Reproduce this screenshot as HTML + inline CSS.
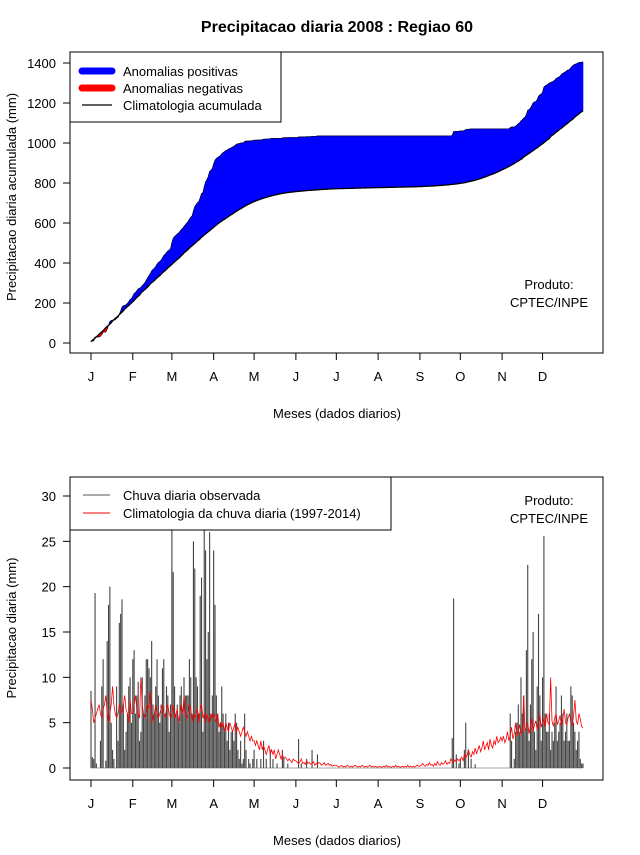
<!DOCTYPE html>
<html><head><meta charset="utf-8">
<style>
body{margin:0;background:#fff;}
svg text{font-family:"Liberation Sans",sans-serif;fill:#000;}
</style></head>
<body>
<svg id="c" width="640" height="850" xmlns="http://www.w3.org/2000/svg">
<rect width="640" height="850" fill="#fff"/>
<text x="337" y="32" font-size="16" font-weight="bold" text-anchor="middle">Precipitacao diaria 2008 : Regiao 60</text>
<g id="topPanel"></g>
<g id="botPanel"></g>
</svg>
<script>
const monthLabels=["J","F","M","A","M","J","J","A","S","O","N","D"];
const monthStartDays=[1,32,61,92,122,153,183,214,245,275,306,336];
const topTicks=[0,200,400,600,800,1000,1200,1400];
const botTicks=[0,5,10,15,20,25,30];
const obsJan=[8.5,1.2,1.0,19.3,0.5,0,0,3,9,12,0,0.8,14,18,20,5,2,1,0,9,3,16,17,18.6,7,2,4,6,9,10,5];
const obsFeb=[12,13,6,8,9.5,3,4,10,6,8,12,12,11,10,14,7,6,9,12,8,5,7,11,12,6,9,8,4,7];
const obsMar=[30,21.6,9,6,7,5,8,9,6,10,8,8,8,12,10,6,25,22,10,9,6,19,21,4,30,24,12,15,26,6,8];
const obsApr=[24,18,8,6,4,5,9,6,4,6,3,5,2,4,4,3,6,5,2,1,3,0.5,1,6,2,0,1,0.5,0,1];
const obsMay=[2,0,1,0,0,1,0,3,0,1,0,0,2,0,1,0,0,0.5,0,0,0,2,1,0,0,0.5,0,0,0,0,0];
const obsJun=[0,0,3.2,0,0.5,0,0,0,1,0,0,0,2,0,0,0,1.5,0,0,0,0,0,0,0,0,0,0,0,0,0];
const obsJul=[0,0,0,0,0,0,0,0,0,0,0,0,0,0,0,0,0,0,0,0,0,0,0,0,0,0,0,0,0,0,0];
const obsAug=[0,0,0,0,0,0,0,0,0,0,0,0,0,0,0,0,0,0,0,0,0,0,0,0,0,0,0,0,0,0,0];
const obsSep=[0,0,0,0,0,0,0,0,0,0,0,0,0,0,0,0,0,0,0,0,0,0,0,0,3.3,18.7,0,1.5,0,0.5];
const obsOct=[1,0,0,2,5,0,2,0,1,0,0,0.4,0,0,0,0,0,0,0,0,0,0,0,0,0,0,0,0,0,0,0];
const obsNov=[0,0,0,0,0,0,6,3,0,1,4,5,7,4,10,6,8,4,13,22.4,3,7,12,15,4,2,9,17,8,3];
const obsDec=[10,25.6,6,4,4,6,2,4,3,5,9,3,4,5,8,6,3,4,6,3,3,9,8,5,4,2,3,4,1,0.5,0.5];
const climJan=[7.5,6.5,5,5.5,6,6.5,7,6,5.5,6.5,7,8,6,5,6,7,9,7,6,5.5,6,7,6.5,6,7,8,6.5,6,5,7.5,6];
const climFeb=[6,7,8,6.5,6,5.5,10,7,6,5.5,6,7,6.5,8.5,6,5,6,7,6,5.5,6,6.5,7,6,5.5,6.5,7,6,5.5];
const climMar=[6,7,5.5,6,6.5,5,6,7,6,8,6,5.5,6,7,6.5,5,6,5.5,6,6.5,5,6.5,7,5.5,6,5,6,5.5,5,6,5.5];
const climApr=[6,5.5,5,6,4.5,5,4.5,5,4,5,4.5,4,5,4.5,4,4.5,5,4,4.5,4,3.5,4,4.5,4,3.5,4,3.5,3,3.5,3];
const climMay=[3,2.5,3,2.5,2,3,2,2.5,2,1.5,2,2.5,1.5,2,1.5,2,1,1.5,2,1.5,1,1.5,1,1.2,1,0.8,1,0.8,0.6,1,0.8];
const climJun=[0.8,0.6,0.5,0.7,1,0.5,0.6,0.4,0.8,0.5,0.6,0.4,0.5,0.7,0.3,0.5,0.4,0.6,0.5,0.3,0.4,0.6,0.3,0.4,0.5,0.3,0.4,0.2,0.3,0.3];
const climJul=[0.3,0.2,0.1,0.2,0.3,0.1,0.2,0.1,0.3,0.2,0.1,0.2,0.1,0.2,0.3,0.2,0.1,0.2,0.1,0.3,0.2,0.1,0.2,0.1,0.2,0.3,0.1,0.2,0.1,0.2,0.1];
const climAug=[0.1,0.2,0.1,0.1,0.2,0.1,0.3,0.1,0.2,0.1,0.1,0.2,0.1,0.3,0.1,0.2,0.1,0.1,0.2,0.1,0.2,0.1,0.3,0.1,0.2,0.1,0.2,0.1,0.2,0.3,0.2];
const climSep=[0.2,0.3,0.5,0.3,0.2,0.4,0.3,0.6,0.3,0.4,0.2,0.5,0.3,0.7,0.4,0.3,0.6,0.4,0.5,0.8,0.4,0.6,0.5,1,0.7,0.6,0.9,0.7,1,0.8];
const climOct=[1,1.2,0.8,1.5,1.1,1.4,2,1.5,1.2,1.8,1.5,2.2,1.6,2,2.5,1.8,2.2,3,2,2.4,2.8,2,3.2,2.5,2.2,3,2.6,3.5,2.8,3,3.4];
const climNov=[3,3.5,2.8,3.2,4,3,3.6,4.5,3.2,3.8,5,3.5,4,4.8,3.6,4.2,8,4,4.5,5,3.8,4.6,5.5,4,4.8,5.2,4.2,5,6,4.5];
const climDec=[5,5.5,4.5,6,5,4.8,10,5.2,4.6,5.5,6,4.8,5.2,5.8,4.6,5.4,6.5,5,4.8,5.6,6,5,4.6,5.8,7.5,5.2,4.8,6,5.4,4.6,4.4];

const obs=[].concat(obsJan,obsFeb,obsMar,obsApr,obsMay,obsJun,obsJul,obsAug,obsSep,obsOct,obsNov,obsDec);
const clim=[].concat(climJan,climFeb,climMar,climApr,climMay,climJun,climJul,climAug,climSep,climOct,climNov,climDec);
const N=obs.length;
const NS="http://www.w3.org/2000/svg";
function mk(parent,tag,attrs){const e=document.createElementNS(NS,tag);for(const k in attrs)e.setAttribute(k,attrs[k]);parent.appendChild(e);return e;}
const xDay=d=>91+(d-1)*(583-91)/365;
const yTop=v=>343-v*0.2;
const yBot=v=>768-v*(768-496)/30;

function axes(g,boxTop,boxBot,yfn,ticks,ylabel,ylabX,ylabY,xlabY,isTop){
  let r=mk(g,'rect',{x:70,y:boxTop,width:533,height:boxBot-boxTop,fill:'none',stroke:'#000','stroke-width':1});
  
  monthStartDays.forEach((d,i)=>{
    const x=xDay(d);
    let t=mk(g,'line',{x1:x,x2:x,y1:boxBot,y2:boxBot+7,stroke:'#000'});
    
    let l=mk(g,'text',{x:x,y:boxBot+28,'font-size':13,'text-anchor':'middle'});l.textContent=monthLabels[i];
    
  });
  mk(g,'line',{x1:xDay(1),x2:xDay(monthStartDays[11]),y1:boxBot,y2:boxBot,stroke:'#000'});
  ticks.forEach(v=>{
    const y=yfn(v);
    let t=mk(g,'line',{x1:63,x2:70,y1:y,y2:y,stroke:'#000'});
    
    let l=mk(g,'text',{x:56,y:y+5,'font-size':13,'text-anchor':'end'});l.textContent=v;
    
  });
  mk(g,'line',{x1:70,x2:70,y1:yfn(ticks[0]),y2:yfn(ticks[ticks.length-1]),stroke:'#000'});
  let yl=mk(g,'text',{x:0,y:0,'font-size':13,'text-anchor':'middle',transform:'translate('+ylabX+','+ylabY+') rotate(-90)'});yl.textContent=ylabel;
  
  let xl=mk(g,'text',{x:337,y:xlabY,'font-size':13,'text-anchor':'middle'});xl.textContent='Meses (dados diarios)';
  
  let p1=mk(g,'text',{x:549,y:boxTop+(isTop?237:28),'font-size':13,'text-anchor':'middle'});p1.textContent='Produto:';
  
  let p2=mk(g,'text',{x:549,y:boxTop+(isTop?255:46),'font-size':13,'text-anchor':'middle'});p2.textContent='CPTEC/INPE';
  
}

const topG=document.getElementById('topPanel');
let co=[],cc=[],so=0,sc=0;
for(let i=0;i<N;i++){so+=obs[i];sc+=clim[i];co.push(so);cc.push(sc);}
let hi=[],lo=[];
for(let i=0;i<N;i++){hi.push(Math.max(co[i],cc[i]));lo.push(Math.min(co[i],cc[i]));}
function poly(a,b,fill,name){
  let pts=[];for(let i=0;i<N;i++)pts.push(xDay(i+1).toFixed(2)+','+yTop(a[i]).toFixed(2));
  for(let i=N-1;i>=0;i--)pts.push(xDay(i+1).toFixed(2)+','+yTop(b[i]).toFixed(2));
  let p=mk(topG,'polygon',{points:pts.join(' '),fill:fill,stroke:fill,'stroke-width':0.6});
  
}
poly(hi,cc,'#0000ff','positive-anomaly-area');
poly(cc,lo,'#ff0000','negative-anomaly-area');
let op=mk(topG,'polyline',{points:co.map((v,i)=>xDay(i+1).toFixed(2)+','+yTop(v).toFixed(2)).join(' '),fill:'none',stroke:'#000','stroke-width':0.6});

let cl=mk(topG,'polyline',{points:cc.map((v,i)=>xDay(i+1).toFixed(2)+','+yTop(v).toFixed(2)).join(' '),fill:'none',stroke:'#000','stroke-width':1.3});

axes(topG,52,353,yTop,topTicks,'Precipitacao diaria acumulada (mm)',16,197,418,true);
const lg=mk(topG,'g',{});

mk(lg,'rect',{x:70,y:52,width:211,height:70,fill:'#fff',stroke:'#000'});
mk(lg,'line',{x1:82,x2:112,y1:71,y2:71,stroke:'#0000ff','stroke-width':7,'stroke-linecap':'round'});
mk(lg,'line',{x1:82,x2:112,y1:88,y2:88,stroke:'#ff0000','stroke-width':7,'stroke-linecap':'round'});
mk(lg,'line',{x1:82,x2:112,y1:105,y2:105,stroke:'#000','stroke-width':1.3});
[['Anomalias positivas',76],['Anomalias negativas',93],['Climatologia acumulada',110]].forEach(([t,y])=>{
  let e=mk(lg,'text',{x:123,y:y,'font-size':13});e.textContent=t;
  
});

const botG=document.getElementById('botPanel');
for(let i=0;i<N;i++){
  if(obs[i]<=0)continue;
  const x=xDay(i+1);
  let b=mk(botG,'line',{x1:x,x2:x,y1:yBot(0),y2:yBot(Math.min(obs[i],31.5)),stroke:'#444','stroke-width':1.1});
  
}
mk(botG,'line',{x1:xDay(1),x2:xDay(N),y1:yBot(0),y2:yBot(0),stroke:'#555','stroke-width':0.6});
let rl=mk(botG,'polyline',{points:clim.map((v,i)=>xDay(i+1).toFixed(2)+','+yBot(v).toFixed(2)).join(' '),fill:'none',stroke:'#ff0000','stroke-width':0.8});

axes(botG,477,780,yBot,botTicks,'Precipitacao diaria (mm)',16,628,845,false);
const lg2=mk(botG,'g',{});

mk(lg2,'rect',{x:70,y:477,width:321,height:53,fill:'#fff',stroke:'#000'});
mk(lg2,'line',{x1:83,x2:110,y1:495,y2:495,stroke:'#555'});
mk(lg2,'line',{x1:83,x2:110,y1:513,y2:513,stroke:'#ff0000'});
[['Chuva diaria observada',500],['Climatologia da chuva diaria (1997-2014)',518]].forEach(([t,y])=>{
  let e=mk(lg2,'text',{x:123,y:y,'font-size':13});e.textContent=t;
  
});
</script>
</body></html>
